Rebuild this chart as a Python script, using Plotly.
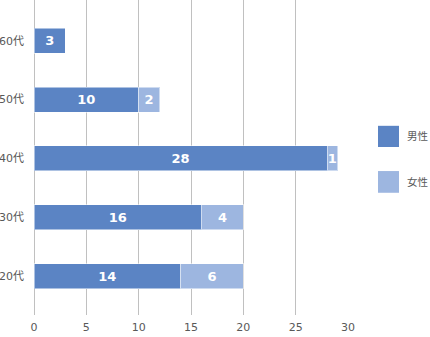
import plotly.graph_objects as go

categories = ["20代", "30代", "40代", "50代", "60代"]
male = [14, 16, 28, 10, 3]
female = [6, 4, 1, 2, None]
series_names = ["男性", "女性"]
x_ticks = [0, 5, 10, 15, 20, 25, 30]

c_male = "#5B84C4"
c_female = "#9DB6E0"
font_fam = "DejaVu Sans, Noto Sans CJK JP, sans-serif"

fig = go.Figure()
for name, vals, col in [(series_names[0], male, c_male), (series_names[1], female, c_female)]:
    fig.add_trace(go.Bar(
        y=categories, x=vals, name=name, orientation="h",
        marker=dict(color=col, line=dict(color="rgba(255,255,255,0.5)", width=1)),
        text=[("" if v is None else str(v)) for v in vals],
        textposition="inside", insidetextanchor="middle",
        textfont=dict(color="white", size=13, family="DejaVu Sans, sans-serif", weight="bold"),
        constraintext="none", cliponaxis=False,
        showlegend=False,
    ))

fig.update_layout(
    width=430, height=337,
    margin=dict(l=34, r=82, t=0, b=22),
    barmode="stack", bargap=0.575,
    plot_bgcolor="white", paper_bgcolor="white",
    font=dict(family=font_fam, color="#595959", size=11),
    uniformtext=dict(minsize=13, mode="show"),
    xaxis=dict(range=[0, 30], tickvals=x_ticks, showgrid=True, gridcolor="#c0c0c0",
               gridwidth=1, zeroline=True, zerolinecolor="#c0c0c0", zerolinewidth=1,
               ticks="", ticklabelstandoff=4, automargin=False,
               tickfont=dict(size=11, color="#595959")),
    yaxis=dict(type="category", categoryorder="array", categoryarray=categories,
               range=[-0.663, 4.692], showgrid=False, zeroline=False, ticks="",
               ticklabelstandoff=9, automargin=False,
               tickfont=dict(size=11, color="#595959")),
)

# custom legend (squares + labels) in paper coordinates
legend_items = [(series_names[0], c_male, 0.6006, 0.5333), (series_names[1], c_female, 0.457, 0.388)]
for name, col, y1, y0 in legend_items:
    fig.add_shape(type="rect", xref="paper", yref="paper", x0=1.0955, x1=1.1624,
                  y0=y0, y1=y1, fillcolor=col, line=dict(width=0))
    fig.add_annotation(xref="paper", yref="paper", x=1.186, y=(y0 + y1) / 2,
                       text=name, showarrow=False, xanchor="left", yanchor="middle",
                       borderpad=0,
                       font=dict(size=10.5, color="#595959", family=font_fam))

fig.write_html("out.html")
